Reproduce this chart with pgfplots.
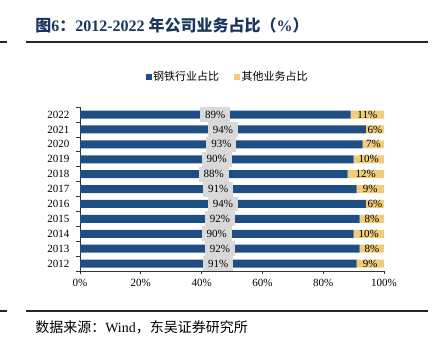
\documentclass[border=0pt]{standalone}
\usepackage{fontspec}
\setmainfont{Liberation Serif}
\newfontfamily\cjk{Noto Sans CJK SC}
\usepackage{pgfplots}
\usepackage{pgfplotstable}
\pgfplotsset{compat=1.18}
\definecolor{steelc}{HTML}{1F4E84}
\definecolor{otherc}{HTML}{F0CD78}
\definecolor{titleblue}{HTML}{1B365D}
\definecolor{lblgray}{HTML}{D9D9D9}
\pgfplotsset{/pgf/number format/assume math mode=true}
\pgfplotstableread{
idx year steel other
0 2012 91 9
1 2013 92 8
2 2014 90 10
3 2015 92 8
4 2016 94 6
5 2017 91 9
6 2018 88 12
7 2019 90 10
8 2020 93 7
9 2021 94 6
10 2022 89 11
}\datatable
\begin{document}
\begin{tikzpicture}
\path[use as bounding box] (0,0) rectangle (325.5pt,-266.25pt);
\begin{scope}[x=0.75pt,y=-0.75pt]
\node[anchor=west, text=titleblue, font=\fontsize{12}{14}\selectfont\bfseries, inner sep=0] at (35,25)
 {{\cjk 图}6{\cjk ：}2012-2022 {\cjk 年公司业务占比（}\%{\cjk ）}};
\draw[line width=1.5pt, black!85] (26,42) -- (428,42);
\draw[line width=1.5pt, black!85] (0,42) -- (7,42);
\draw[line width=1.5pt, black!85] (26,311) -- (428,311);
\draw[line width=1.5pt, black!85] (0,311) -- (7,311);
\node[anchor=west, font=\fontsize{10.5}{12}\selectfont, inner sep=0] at (35,327)
 {{\cjk 数据来源：}Wind{\cjk ，东吴证券研究所}};
\end{scope}
\begin{axis}[
  at={(60pt,-203.25pt)}, anchor=south west,
  scale only axis, width=228pt, height=122.9pt,
  xmin=0, xmax=100, ymin=-0.5, ymax=10.5,
  xbar stacked, bar width=6pt,
  axis lines*=left,
  axis line style={black!80, line width=0.6pt},
  tick align=outside,
  major tick length=2.5pt, minor tick length=3pt,
  xtick={0,20,...,100},
  xticklabel={\pgfmathprintnumber{\tick}\%},
  ytick={0,...,10},
  yticklabels={2012,2013,2014,2015,2016,2017,2018,2019,2020,2021,2022},
  minor ytick={-0.5,0.5,...,10.5},
  major y tick style={draw=none},
  minor y tick style={black!80, line width=0.6pt},
  major x tick style={black!80, line width=0.6pt},
  tick label style={font=\fontsize{8.25}{9}\selectfont},
  yticklabel style={xshift=-2pt},
  legend columns=2,
  legend style={at={(0.485,1.183)}, anchor=center, draw=none, fill=none,
    font=\fontsize{8.25}{9}\selectfont, /tikz/every even column/.append style={column sep=10pt},
    nodes={inner sep=1.2pt}},
  legend image code/.code={\fill[#1] (0pt,-2.25pt) rectangle (4.5pt,2.25pt);},
]
\addplot[fill=steelc, draw=none] table[x=steel, y=idx]{\datatable};
\addlegendentry{\cjk 钢铁行业占比}
\addplot[fill=otherc, draw=none] table[x=other, y=idx]{\datatable};
\addlegendentry{\cjk 其他业务占比}
\end{axis}
\begin{axis}[
  at={(60pt,-203.25pt)}, anchor=south west,
  scale only axis, width=228pt, height=122.9pt,
  xmin=0, xmax=100, ymin=-0.5, ymax=10.5,
  hide axis, clip=false,
  nodes near coords={\pgfmathprintnumber{\pgfplotspointmeta}\%},
  nodes near coords style={anchor=center, font=\fontsize{8.25}{9}\selectfont, inner sep=0pt},
]
\addplot[draw=none, mark=none, point meta=explicit,
  nodes near coords style={fill=lblgray, minimum width=22.5pt, minimum height=11.2pt}]
  table[x expr=\thisrow{steel}/2, y=idx, meta=steel]{\datatable};
\addplot[draw=none, mark=none, point meta=explicit]
  table[x expr=\thisrow{steel}+\thisrow{other}/2, y=idx, meta=other]{\datatable};
\end{axis}
\end{tikzpicture}
\end{document}
